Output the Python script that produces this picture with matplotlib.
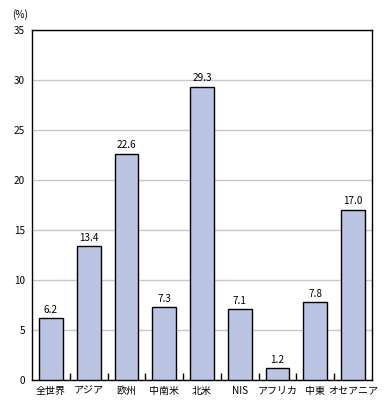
import matplotlib
matplotlib.use("Agg")
import matplotlib.pyplot as plt
import numpy as np

plt.rcParams['font.family'] = ['Noto Sans CJK JP', 'DejaVu Sans']

# data
regions = ['全世界', 'アジア', '欧州', '中南米', '北米', 'NIS', 'アフリカ', '中東', 'オセアニア']
values = [6.2, 13.4, 22.6, 7.3, 29.3, 7.1, 1.2, 7.8, 17.0]
yticks = [0, 5, 10, 15, 20, 25, 30, 35]

fig = plt.figure(figsize=(3.88, 4.08), dpi=100)
ax = fig.add_axes([0.0825, 0.0686, 0.876, 0.8579])

x = np.arange(len(regions))
ax.bar(x, values, width=0.63, color='#bcc4e4', edgecolor='black', linewidth=1, zorder=3)
for xi, v in zip(x, values):
    ax.text(xi, v + 0.35, f'{v:.1f}', ha='center', va='bottom', fontsize=7.2)

ax.set_xlim(-0.5, len(regions) - 0.5)
ax.set_ylim(0, 35)
ax.set_yticks(yticks)
ax.set_yticklabels([str(t) for t in yticks], fontsize=7.2)
ax.tick_params(axis='y', length=0, pad=5)
ax.yaxis.grid(True, color='#c8c8c8', linewidth=1, zorder=0)

ax.set_xticks(x)
ax.set_xticklabels(regions, fontsize=7.2)
ax.tick_params(axis='x', which='major', length=0, pad=4)
ax.set_xticks(np.arange(0.5, len(regions) - 1, 1), minor=True)
ax.tick_params(axis='x', which='minor', direction='in', length=5, width=1)

for s in ax.spines.values():
    s.set_linewidth(1)

fig.text(0.03, 0.955, '(%)', fontsize=7.2)

fig.savefig('out.png', dpi=100)
